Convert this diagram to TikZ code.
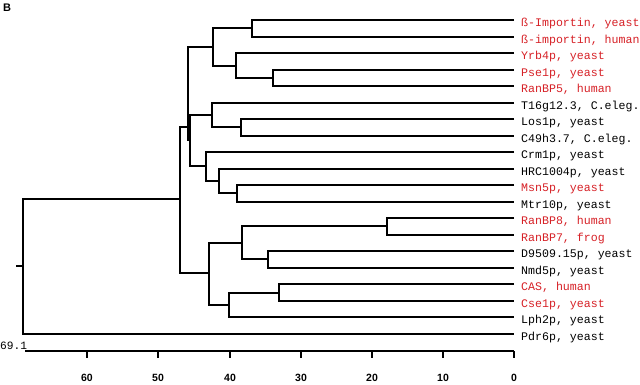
\documentclass[tikz,border=0pt]{standalone}
\usepackage{fontspec}
\setmainfont{Liberation Sans}
\setmonofont{Liberation Mono}
\usepackage{tikz}
\definecolor{hitred}{RGB}{214,32,38}
\tikzset{
  branch/.style={line width=2pt},
  axisline/.style={line width=2pt},
  taxon/.style={anchor=base west,inner sep=0pt,xshift=7pt,yshift=-6pt,font=\fontsize{11.6}{12}\ttfamily},
  hit/.style={taxon,text=hitred},
  scalelab/.style={inner sep=0pt,font=\fontsize{10.5}{12}\bfseries}
}
\begin{document}
\begin{tikzpicture}[x=1pt,y=-1pt]
\useasboundingbox (0,0) rectangle (640,384);
\node (fig) [anchor=base west,inner sep=0pt,font=\fontsize{11}{12}\bfseries] at (3,11) {B};
\foreach \i/\y in {1/20,2/37,3/53,4/70,5/86,6/103,7/119,8/136,9/152,10/169,
  11/185,12/202,13/218,14/235,15/251,16/268,17/284,18/301,19/317,20/334}
  \coordinate (l\i) at (514,\y);
\node (t1) [hit] at (l1) {ß-Importin, yeast};
\node (t2) [hit] at (l2) {ß-importin, human};
\node (t3) [hit] at (l3) {Yrb4p, yeast};
\node (t4) [hit] at (l4) {Pse1p, yeast};
\node (t5) [hit] at (l5) {RanBP5, human};
\node (t6) [taxon] at (l6) {T16g12.3, C.eleg.};
\node (t7) [taxon] at (l7) {Los1p, yeast};
\node (t8) [taxon] at (l8) {C49h3.7, C.eleg.};
\node (t9) [taxon] at (l9) {Crm1p, yeast};
\node (t10) [taxon] at (l10) {HRC1004p, yeast};
\node (t11) [hit] at (l11) {Msn5p, yeast};
\node (t12) [taxon] at (l12) {Mtr10p, yeast};
\node (t13) [hit] at (l13) {RanBP8, human};
\node (t14) [hit] at (l14) {RanBP7, frog};
\node (t15) [taxon] at (l15) {D9509.15p, yeast};
\node (t16) [taxon] at (l16) {Nmd5p, yeast};
\node (t17) [hit] at (l17) {CAS, human};
\node (t18) [hit] at (l18) {Cse1p, yeast};
\node (t19) [taxon] at (l19) {Lph2p, yeast};
\node (t20) [taxon] at (l20) {Pdr6p, yeast};
\coordinate (imp) at (252,28);
\coordinate (pse) at (273,78);
\coordinate (yrb) at (236,66);
\coordinate (ca) at (213,47);
\coordinate (los) at (241,127);
\coordinate (cb) at (212,115);
\coordinate (msn) at (237,193);
\coordinate (hrc) at (219,181);
\coordinate (cc) at (206,166);
\coordinate (n2) at (190,140);
\coordinate (n1) at (188,127);
\coordinate (rbp) at (387,226);
\coordinate (nmd) at (268,259);
\coordinate (ran) at (242,243);
\coordinate (cas) at (279,293);
\coordinate (lph) at (229,305);
\coordinate (cd) at (209,273);
\coordinate (big) at (180,199);
\coordinate (root) at (23,266);
\coordinate (stub) at (16,266);
\draw[branch] (l1) -| (imp) |- (l2);
\draw[branch] (l4) -| (pse) |- (l5);
\draw[branch] (l3) -| (yrb) |- (pse);
\draw[branch] (imp) -| (ca) |- (yrb);
\draw[branch] (l7) -| (los) |- (l8);
\draw[branch] (l6) -| (cb) |- (los);
\draw[branch] (l11) -| (msn) |- (l12);
\draw[branch] (l10) -| (hrc) |- (msn);
\draw[branch] (l9) -| (cc) |- (hrc);
\draw[branch] (cb) -| (n2) |- (cc);
\draw[branch] (ca) -| (n1) |- (n2);
\draw[branch] (l13) -| (rbp) |- (l14);
\draw[branch] (l15) -| (nmd) |- (l16);
\draw[branch] (rbp) -| (ran) |- (nmd);
\draw[branch] (l17) -| (cas) |- (l18);
\draw[branch] (cas) -| (lph) |- (l19);
\draw[branch] (ran) -| (cd) |- (lph);
\draw[branch] (n1) -| (big) |- (cd);
\draw[branch] (big) -| (root) |- (l20);
\draw[branch] (stub) -- (root);
\coordinate (a0) at (514,351);
\coordinate (a1) at (25,351);
\draw[axisline] (a1) -- (a0);
\node (rootlab) [anchor=base west,inner sep=0pt,font=\fontsize{11.2}{12}\ttfamily] at (0,349) {69.1};
\foreach \d/\x in {0/514,10/443,20/372,30/301,40/230,50/158,60/87} {
  \draw[axisline] (\x,351) -- (\x,358);
  \node (s\d) [scalelab] at (\x,378) {\d};
}
\end{tikzpicture}
\end{document}
